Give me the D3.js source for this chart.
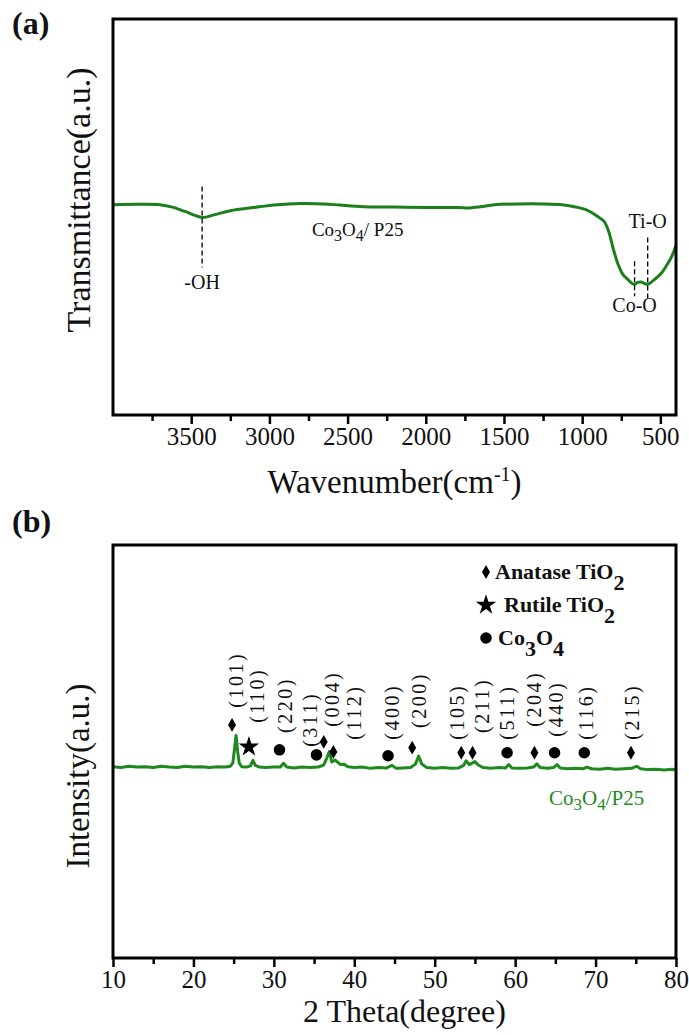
<!DOCTYPE html>
<html>
<head>
<meta charset="utf-8">
<script src="https://cdn.jsdelivr.net/npm/d3@7"></script>
<style>
  body { margin: 0; background: #fff; }
  svg { display: block; }
  text { font-family: "Liberation Serif", "Times New Roman", serif; fill: #111; }
</style>
</head>
<body>
<div id="vis"></div>
<script>
// ---- (a) FTIR data ----
const ftirWn = [4000, 3850, 3700, 3620, 3540, 3430, 3350, 3250, 3100, 2950, 2800, 2650, 2550, 2400, 2200, 2000, 1800, 1720, 1650, 1560, 1400, 1250, 1130, 1050, 980, 900, 860, 830, 800, 770, 740, 710, 680, 665, 645, 625, 600, 581, 550, 520, 490, 460, 430, 400];
const ftirT  = [53.1, 53.2, 53.1, 52.5, 51.4, 49.9, 50.6, 51.6, 52.4, 53.1, 53.4, 53.3, 53.0, 52.6, 52.5, 52.4, 52.4, 52.3, 52.6, 53.1, 53.3, 53.3, 53.1, 52.6, 51.9, 50.1, 48.9, 46.3, 41.8, 38.0, 35.5, 34.3, 33.2, 33.0, 33.5, 33.6, 33.2, 33.0, 33.8, 34.8, 36.0, 37.8, 39.8, 42.8];
const ftirTicks = [3500, 3000, 2500, 2000, 1500, 1000, 500];
const ftirMinor = [3750, 3250, 2750, 2250, 1750, 1250, 750];
const bandNames = ["-OH", "Co-O", "Ti-O"];
const bandWn = [3430, 665, 581];
const bandLineTop = [57.7, 38.8, 44.8];
const bandLineBot = [37.3, 30.0, 29.2];
const bandTextT = [31.7, 26.0, 47.3];

// ---- (b) XRD data ----
const xrdTheta = [10, 11, 12, 13, 14, 15, 16, 17, 18, 19, 20, 21, 22, 23, 24, 24.6, 24.9, 25.1, 25.3, 25.5, 25.7, 26.0, 26.6, 27.1, 27.4, 27.7, 28.2, 29, 30, 30.8, 31.2, 31.6, 32.5, 33.5, 34.5, 35.5, 36.2, 36.6, 36.9, 37.2, 37.6, 37.9, 38.3, 38.7, 39.2, 40, 41, 42, 43, 44, 44.7, 45.2, 46, 47, 47.6, 48.0, 48.4, 49, 50, 51, 52, 53, 53.6, 53.9, 54.3, 55.0, 55.4, 56, 57, 58, 58.8, 59.2, 59.6, 60.5, 61.5, 62.3, 62.7, 63.1, 64, 64.8, 65.2, 65.6, 66.5, 67.5, 68.5, 68.9, 69.5, 70.5, 71.5, 72.5, 73.5, 74.5, 75.1, 75.6, 76.5, 77.5, 78.5, 79.5, 80];
const xrdI = [45.4, 45.2, 45.5, 45.3, 45.4, 45.2, 45.5, 45.3, 45.2, 45.5, 45.3, 45.4, 45.2, 45.4, 45.3, 45.5, 46.3, 49.5, 52.8, 49.0, 46.2, 45.4, 45.3, 45.6, 46.9, 45.7, 45.3, 45.2, 45.3, 45.3, 46.2, 45.3, 45.1, 45.3, 45.2, 45.3, 45.8, 47.5, 49.0, 46.5, 47.0, 46.5, 45.9, 46.0, 45.4, 45.2, 45.3, 45.0, 45.2, 45.1, 45.7, 45.0, 45.1, 45.2, 46.0, 47.9, 46.0, 45.2, 45.0, 45.2, 45.0, 45.1, 45.7, 46.8, 45.9, 46.6, 45.8, 45.2, 45.0, 45.2, 45.1, 45.9, 45.1, 45.0, 45.1, 45.3, 46.1, 45.2, 45.0, 45.2, 45.9, 45.1, 44.9, 45.0, 44.9, 45.3, 44.9, 44.8, 45.0, 44.8, 44.9, 45.0, 45.5, 44.9, 44.7, 44.8, 44.6, 44.8, 44.7];
const xrdTicks = [10, 20, 30, 40, 50, 60, 70, 80];
const xrdMinor = [15, 25, 35, 45, 55, 65, 75];
const peakLabels = ["(101)", "(110)", "(220)", "(311)", "(004)", "(112)", "(400)", "(200)", "(105)", "(211)", "(511)", "(204)", "(440)", "(116)", "(215)"];
const peakPhase  = ["A", "R", "C", "C", "A", "A", "C", "A", "A", "A", "C", "A", "C", "C", "A"];
const markTheta  = [24.8, 26.9, 30.7, 35.3, 36.2, 37.4, 44.2, 47.2, 53.3, 54.7, 59.0, 62.4, 64.9, 68.6, 74.4];
const markI      = [55.3, 50.1, 49.4, 48.2, 51.3, 48.9, 48.0, 49.9, 48.7, 48.7, 48.7, 48.7, 48.7, 48.7, 48.7];
const labelTheta = [25.35, 27.9, 31.35, 34.45, 37.2, 40.0, 44.75, 48.1, 52.8, 55.9, 59.0, 62.4, 65.1, 68.8, 74.5];
const labelI     = [59.4, 55.8, 53.4, 50.1, 54.9, 51.8, 51.8, 54.6, 51.8, 53.4, 51.8, 54.9, 52.5, 51.8, 51.8];
const legendPhase = ["A", "R", "C"];

const W = 689, H = 1035;
const green = "#1e8a1e";

const svg = d3.select("#vis").append("svg")
  .attr("width", W)
  .attr("height", H);

const symbolFor = {
  A: d3.symbol().type(d3.symbolDiamond).size(55),
  R: d3.symbol().type(d3.symbolStar).size(130),
  C: d3.symbol().type(d3.symbolCircle).size(105)
};

function addSub(t, parts, subDy, subSize) {
  // parts: [text, isSub]
  let shift = 0;
  parts.forEach(p => {
    const sp = t.append("tspan").text(p[0]);
    if (p[1]) {
      sp.attr("dy", subDy - shift).attr("font-size", subSize);
      shift = subDy;
    } else if (shift) {
      sp.attr("dy", -shift);
      shift = 0;
    }
  });
}

function drawBottomAxis(g, x, y0, major, minor) {
  g.append("g")
    .attr("transform", `translate(0,${y0})`)
    .call(d3.axisBottom(x).tickValues(minor).tickSize(6).tickFormat(""))
    .call(a => a.select(".domain").remove())
    .call(a => a.selectAll("line").attr("stroke", "#000").attr("stroke-width", 2.5));
  const ax = g.append("g")
    .attr("transform", `translate(0,${y0})`)
    .call(d3.axisBottom(x).tickValues(major).tickSize(9).tickPadding(3).tickFormat(d3.format("d")));
  ax.attr("font-size", null).attr("font-family", null);
  ax.select(".domain").remove();
  ax.selectAll("line").attr("stroke", "#000").attr("stroke-width", 2.5);
  ax.selectAll("text")
    .style("font-family", "'Liberation Serif', 'Times New Roman', serif")
    .style("font-size", "25px")
    .style("fill", "#111");
}

// ================= panel (a) =================
const A = { l: 113, r: 676, t: 19, b: 415 };
const xA = d3.scaleLinear().domain([4000, 400]).range([A.l, A.r]);
const yA = d3.scaleLinear().domain([0, 100]).range([A.b, A.t]);
const gA = svg.append("g");

svg.append("text").attr("x", 12).attr("y", 34)
  .attr("font-size", 32).attr("font-weight", "bold").text("(a)");

const ftir = ftirWn.map((w, i) => [w, ftirT[i]]);
gA.append("path")
  .datum(ftir)
  .attr("fill", "none")
  .attr("stroke", "#1b7f1b")
  .attr("stroke-width", 3)
  .attr("stroke-linejoin", "round")
  .attr("d", d3.line().x(d => xA(d[0])).y(d => yA(d[1])).curve(d3.curveCatmullRom));

bandNames.forEach((n, i) => {
  gA.append("line")
    .attr("x1", xA(bandWn[i])).attr("x2", xA(bandWn[i]))
    .attr("y1", yA(bandLineTop[i])).attr("y2", yA(bandLineBot[i]))
    .attr("stroke", "#000").attr("stroke-width", 1.3)
    .attr("stroke-dasharray", "5,3");
  gA.append("text")
    .attr("x", xA(bandWn[i])).attr("y", yA(bandTextT[i]))
    .attr("text-anchor", "middle")
    .attr("font-size", 20)
    .text(n);
});

const sampleA = gA.append("text")
  .attr("x", xA(2728)).attr("y", yA(45.3))
  .attr("font-size", 19);
addSub(sampleA, [["Co"], ["3", true], ["O"], ["4", true], ["/ P25"]], 5, 16);

gA.append("rect")
  .attr("x", A.l).attr("y", A.t)
  .attr("width", A.r - A.l).attr("height", A.b - A.t)
  .attr("fill", "none").attr("stroke", "#000").attr("stroke-width", 3);

drawBottomAxis(gA, xA, A.b, ftirTicks, ftirMinor);

gA.append("text")
  .attr("transform", `translate(90,200) rotate(-90)`)
  .attr("text-anchor", "middle")
  .attr("font-size", 34)
  .text("Transmittance(a.u.)");

const xtA = gA.append("text")
  .attr("x", (A.l + A.r) / 2).attr("y", 493)
  .attr("text-anchor", "middle")
  .attr("font-size", 33);
xtA.append("tspan").text("Wavenumber(cm");
xtA.append("tspan").attr("dy", -12).attr("font-size", 20).text("-1");
xtA.append("tspan").attr("dy", 12).text(")");

// ================= panel (b) =================
const B = { l: 113, r: 676, t: 545, b: 958 };
const xB = d3.scaleLinear().domain([10, 80]).range([B.l, B.r]);
const yB = d3.scaleLinear().domain([0, 98]).range([B.b, B.t]);
const gB = svg.append("g");

svg.append("text").attr("x", 12).attr("y", 532)
  .attr("font-size", 32).attr("font-weight", "bold").text("(b)");

const xrd = xrdTheta.map((t, i) => [t, xrdI[i]]);
gB.append("path")
  .datum(xrd)
  .attr("fill", "none")
  .attr("stroke", green)
  .attr("stroke-width", 3)
  .attr("stroke-linejoin", "round")
  .attr("d", d3.line().x(d => xB(d[0])).y(d => yB(d[1])));

peakLabels.forEach((lab, i) => {
  gB.append("path")
    .attr("transform", `translate(${xB(markTheta[i])},${yB(markI[i])})`)
    .attr("d", symbolFor[peakPhase[i]]())
    .attr("fill", "#000");
  gB.append("text")
    .attr("transform", `translate(${xB(labelTheta[i])},${yB(labelI[i])}) rotate(-90)`)
    .attr("dy", "0.35em")
    .attr("font-size", 20)
    .attr("letter-spacing", 2.5)
    .text(lab);
});

const legendText = [
  [["Anatase TiO"], ["2", true]],
  [["Rutile TiO"], ["2", true]],
  [["Co"], ["3", true], ["O"], ["4", true]]
];
const legendTextX = [495, 504, 498];
legendPhase.forEach((p, i) => {
  const cy = 572 + i * 33;
  gB.append("path")
    .attr("transform", `translate(486,${cy})`)
    .attr("d", symbolFor[p]())
    .attr("fill", "#000");
  const t = gB.append("text")
    .attr("x", legendTextX[i]).attr("y", cy + 7)
    .attr("font-size", 22).attr("font-weight", "bold");
  addSub(t, legendText[i], 11, 22);
});

const sampleB = gB.append("text")
  .attr("x", 549).attr("y", yB(36.3))
  .attr("font-size", 21)
  .style("fill", green);
addSub(sampleB, [["Co"], ["3", true], ["O"], ["4", true], ["/P25"]], 5, 17);

gB.append("rect")
  .attr("x", B.l).attr("y", B.t)
  .attr("width", B.r - B.l).attr("height", B.b - B.t)
  .attr("fill", "none").attr("stroke", "#000").attr("stroke-width", 3);

drawBottomAxis(gB, xB, B.b, xrdTicks, xrdMinor);

gB.append("text")
  .attr("transform", `translate(89,${776}) rotate(-90)`)
  .attr("text-anchor", "middle")
  .attr("font-size", 33)
  .text("Intensity(a.u.)");

gB.append("text")
  .attr("x", (B.l + B.r) / 2 + 10).attr("y", 1022)
  .attr("text-anchor", "middle")
  .attr("font-size", 32)
  .text("2 Theta(degree)");
</script>
</body>
</html>
